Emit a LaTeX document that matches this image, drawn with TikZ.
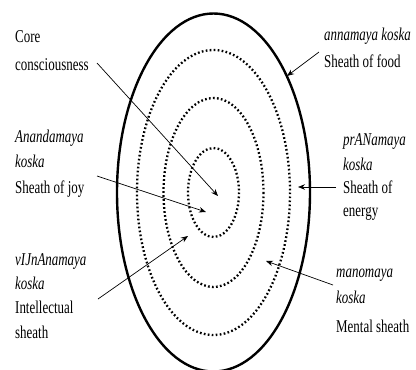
\documentclass[tikz,border=0pt]{standalone}
\usepackage{fontspec}
\setmainfont{Liberation Serif}
\usetikzlibrary{arrows.meta}
\newcommand{\nar}[1]{\scalebox{0.72}[1]{#1}}
\tikzset{
  lbl/.style={anchor=base west, inner sep=0pt, font=\fontsize{18}{18}\selectfont},
  ilbl/.style={lbl, font=\fontsize{18}{18}\selectfont\itshape},
  sheath/.style={line width=2.3pt, dash pattern=on 1.7pt off 2.3pt},
  outer/.style={line width=2.4pt},
  ptr/.style={line width=0.7pt, -{Stealth[length=7pt,width=5.5pt]}}
}
\begin{document}
\begin{tikzpicture}[x=1pt,y=-1pt]
\useasboundingbox (0,0) rectangle (416,370);
\fill[white] (0,0) rectangle (416,370);
% sheaths
\coordinate (c) at (213.5,192.5);
\draw[outer] (c) ellipse [x radius=96.5, y radius=179];
\draw[sheath] (c) ellipse [x radius=76.5, y radius=142.5];
\draw[sheath] (c) ellipse [x radius=50, y radius=94.5];
\draw[sheath] (c) ellipse [x radius=25.5, y radius=44.5];
% labels left
\node[lbl] (core1) at (15,42) {\nar{Core}};
\node[lbl] (core2) at (15,70) {\nar{consciousness}};
\node[ilbl] (ana1) at (15,142) {\nar{Anandamaya}};
\node[ilbl] (ana2) at (15,167) {\nar{koska}};
\node[lbl] (ana3) at (15,193) {\nar{Sheath of joy}};
\node[ilbl] (vij1) at (15,265) {\nar{vIJnAnamaya}};
\node[ilbl] (vij2) at (15,289) {\nar{koska}};
\node[lbl] (vij3) at (15,313) {\nar{Intellectual}};
\node[lbl] (vij4) at (15,338) {\nar{sheath}};
% labels right
\node[ilbl] (ann1) at (324,40) {\nar{annamaya koska}};
\node[lbl] (ann2) at (324,67) {\nar{Sheath of food}};
\node[ilbl] (pra1) at (343,145) {\nar{prANamaya}};
\node[ilbl] (pra2) at (343,170) {\nar{koska}};
\node[lbl] (pra3) at (343,193) {\nar{Sheath of}};
\node[lbl] (pra4) at (343,216) {\nar{energy}};
\node[ilbl] (man1) at (336,277) {\nar{manomaya}};
\node[ilbl] (man2) at (336,303) {\nar{koska}};
\node[lbl] (man3) at (336,332) {\nar{Mental sheath}};
% pointer ends
\coordinate (coreS) at (97,63);
\coordinate (coreT) at (218,196);
\coordinate (anaS) at (97,176);
\coordinate (anaT) at (206,212);
\coordinate (vijS) at (98,299);
\coordinate (vijT) at (188,236);
\coordinate (annS) at (319,52);
\coordinate (annT) at (287,76);
\coordinate (praS) at (336,187);
\coordinate (praT) at (298,187);
\coordinate (manS) at (333,285);
\coordinate (manT) at (266,261);
\draw[ptr] (coreS) -- (coreT);
\draw[ptr] (anaS) -- (anaT);
\draw[ptr] (vijS) -- (vijT);
\draw[ptr] (annS) -- (annT);
\draw[ptr] (praS) -- (praT);
\draw[ptr] (manS) -- (manT);
\end{tikzpicture}
\end{document}
